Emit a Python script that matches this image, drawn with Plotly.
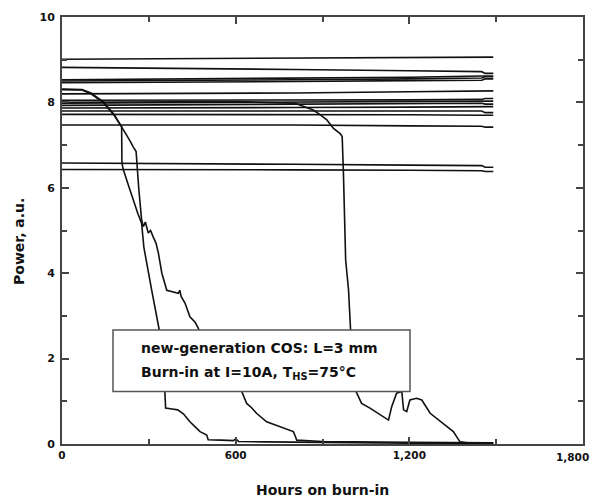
import plotly.graph_objects as go

# ---------------- data ----------------
x_ticks = [0, 600, 1200, 1800]
x_tick_labels = ["0", "600", "1,200", "1,800"]
y_ticks = [0, 2, 4, 6, 8, 10]

hours_flat = [0, 400, 800, 1200, 1450, 1462, 1490]
p_flat_01 = [9.01, 9.02, 9.03, 9.05, 9.06, 9.06, 9.06]
p_flat_02 = [8.82, 8.80, 8.77, 8.74, 8.72, 8.68, 8.68]
p_flat_03 = [8.53, 8.55, 8.56, 8.59, 8.62, 8.62, 8.62]
p_flat_04 = [8.50, 8.51, 8.53, 8.55, 8.57, 8.60, 8.60]
p_flat_05 = [8.46, 8.47, 8.49, 8.51, 8.52, 8.55, 8.55]
p_flat_06 = [8.20, 8.21, 8.22, 8.25, 8.27, 8.27, 8.27]
p_flat_07 = [8.05, 8.05, 8.06, 8.06, 8.07, 8.09, 8.09]
p_flat_08 = [7.98, 7.99, 8.00, 8.02, 8.03, 8.03, 8.03]
p_flat_09 = [7.93, 7.94, 7.95, 7.97, 7.98, 7.96, 7.96]
p_flat_10 = [7.87, 7.87, 7.88, 7.89, 7.90, 7.90, 7.90]
p_flat_11 = [7.80, 7.80, 7.80, 7.80, 7.80, 7.76, 7.76]
p_flat_12 = [7.72, 7.72, 7.72, 7.71, 7.70, 7.70, 7.70]
p_flat_13 = [7.47, 7.47, 7.47, 7.45, 7.44, 7.42, 7.42]
p_flat_14 = [6.58, 6.57, 6.55, 6.53, 6.52, 6.48, 6.48]
p_flat_15 = [6.43, 6.43, 6.42, 6.41, 6.40, 6.38, 6.38]

hours_fail_a = [0, 40, 69, 100, 142, 180, 200, 206, 207, 212, 230, 246, 262, 275,
                283, 310, 327, 336, 350, 356, 358, 380, 400, 420, 442, 460, 477,
                500, 505, 550, 592, 600, 610, 700, 830, 900, 1000, 1200, 1490]
power_fail_a = [8.30, 8.30, 8.29, 8.20, 8.00, 7.70, 7.48, 7.43, 6.58, 6.42, 6.05,
                5.71, 5.40, 5.17, 4.60, 3.60, 2.98, 2.67, 2.00, 1.26, 0.84, 0.82,
                0.80, 0.70, 0.52, 0.40, 0.29, 0.21, 0.10, 0.09, 0.08, 0.12, 0.06,
                0.05, 0.04, 0.03, 0.02, 0.02, 0.02]

hours_fail_b = [0, 40, 69, 100, 142, 180, 200, 207, 220, 235, 246, 252, 256, 265,
                275, 281, 288, 298, 306, 315, 325, 333, 345, 362, 380, 402, 407,
                412, 425, 442, 460, 471, 500, 560, 621, 638, 655, 672, 707, 753,
                799, 805, 811, 900, 1000, 1200, 1490]
power_fail_b = [8.31, 8.31, 8.30, 8.22, 8.02, 7.72, 7.50, 7.40, 7.25, 7.10, 6.96,
                6.90, 6.85, 6.00, 5.25, 5.09, 5.20, 4.94, 5.00, 4.85, 4.70, 4.47,
                4.00, 3.60, 3.57, 3.53, 3.60, 3.45, 3.30, 2.98, 2.85, 2.71, 2.20,
                1.70, 1.23, 0.95, 0.85, 0.72, 0.52, 0.41, 0.29, 0.20, 0.09, 0.06,
                0.05, 0.04, 0.03]

hours_fail_c = [0, 300, 600, 805, 840, 868, 890, 915, 938, 961, 968, 972, 980, 990,
                997, 1005, 1016, 1035, 1064, 1093, 1128, 1139, 1156, 1174, 1180,
                1191, 1202, 1225, 1243, 1272, 1317, 1352, 1375, 1400, 1490]
power_fail_c = [8.00, 8.01, 8.02, 7.98, 7.90, 7.82, 7.72, 7.59, 7.39, 7.27, 7.20,
                6.42, 4.31, 3.60, 2.67, 1.90, 1.23, 0.95, 0.84, 0.72, 0.56, 0.87,
                1.19, 1.23, 0.80, 0.76, 1.03, 1.07, 1.03, 0.72, 0.48, 0.29, 0.05,
                0.03, 0.03]

note_line_1 = "new-generation COS: L=3 mm"
note_line_2 = "Burn-in at I=10A, T<sub>HS</sub>=75°C"
x_title = "Hours on burn-in"
y_title = "Power, a.u."

# ---------------- figure ----------------
FONT = "DejaVu Sans, Verdana, sans-serif"
INK = "#111111"
AXC = "#444444"
LINE = dict(color=INK, width=1.6)
XTICK_FONT = dict(family=FONT, size=10.5, color=INK, weight="bold")

fig = go.Figure()
flat_series = [p_flat_01, p_flat_02, p_flat_03, p_flat_04, p_flat_05, p_flat_06,
               p_flat_07, p_flat_08, p_flat_09, p_flat_10, p_flat_11, p_flat_12,
               p_flat_13, p_flat_14, p_flat_15]
for p in flat_series:
    fig.add_trace(go.Scatter(x=hours_flat, y=p, mode="lines", line=LINE,
                             showlegend=False, hoverinfo="skip"))
for hx, py in [(hours_fail_c, power_fail_c), (hours_fail_a, power_fail_a),
               (hours_fail_b, power_fail_b)]:
    fig.add_trace(go.Scatter(x=hx, y=py, mode="lines", line=LINE,
                             showlegend=False, hoverinfo="skip"))

axis_common = dict(
    showline=True, linecolor=AXC, linewidth=2, mirror="ticks",
    ticks="inside", ticklen=7, tickwidth=1.5, tickcolor=AXC,
    showgrid=False, zeroline=False, automargin=False,
)

# the last x label sits at the page edge; it is drawn as an annotation so it stays visible
shown_x_labels = x_tick_labels[:-1] + [""]
fig.update_xaxes(range=[0, 1800], tickvals=x_ticks, ticktext=shown_x_labels,
                 tickfont=XTICK_FONT,
                 minor=dict(dtick=300, ticks="inside", ticklen=5, tickwidth=1.5,
                            tickcolor=AXC),
                 **axis_common)
fig.update_yaxes(range=[0, 10], tickvals=y_ticks,
                 tickfont=dict(family=FONT, size=11, color=INK, weight="bold"),
                 ticklabelstandoff=3,
                 minor=dict(dtick=1, ticks="inside", ticklen=5, tickwidth=1.5,
                            tickcolor=AXC),
                 **axis_common)

# plot area is 521 x 427 px
PW, PH = 521.0, 427.0

fig.add_annotation(xref="x", yref="paper", x=x_ticks[-1], y=-(457 - 444) / PH,
                   xanchor="right", yanchor="middle", xshift=8, showarrow=False,
                   text=x_tick_labels[-1], font=XTICK_FONT)

# annotation box
fig.add_shape(type="rect", xref="paper", yref="paper",
              x0=(113 - 62) / PW, x1=(410 - 62) / PW,
              y0=(444 - 391.5) / PH, y1=(444 - 330) / PH,
              fillcolor="white", line=dict(color="#555555", width=1.5),
              layer="above")
fig.add_annotation(xref="paper", yref="paper", x=(139 - 62) / PW, y=(444 - 348) / PH,
                   xanchor="left", yanchor="middle", showarrow=False,
                   text=note_line_1,
                   font=dict(family=FONT, size=14, color=INK, weight="bold"))
fig.add_annotation(xref="paper", yref="paper", x=(139 - 62) / PW, y=(444 - 373) / PH,
                   xanchor="left", yanchor="middle", showarrow=False,
                   text=note_line_2,
                   font=dict(family=FONT, size=14, color=INK, weight="bold"))

# axis titles
fig.add_annotation(xref="paper", yref="paper", x=0.5, y=-(490 - 444) / PH,
                   xanchor="center", yanchor="middle", showarrow=False,
                   text=x_title,
                   font=dict(family=FONT, size=14, color=INK, weight="bold"))
fig.add_annotation(xref="paper", yref="paper", x=-(62 - 19) / PW, y=(444 - 242) / PH,
                   xanchor="center", yanchor="middle", showarrow=False,
                   textangle=-90, text=y_title,
                   font=dict(family=FONT, size=14, color=INK, weight="bold"))

# page body has an 8px margin, so the figure is 8px smaller each way
fig.update_layout(
    width=593, height=491,
    margin=dict(l=54, r=18, t=9, b=55),
    paper_bgcolor="white", plot_bgcolor="white",
    showlegend=False,
)

fig.write_html("out.html")
